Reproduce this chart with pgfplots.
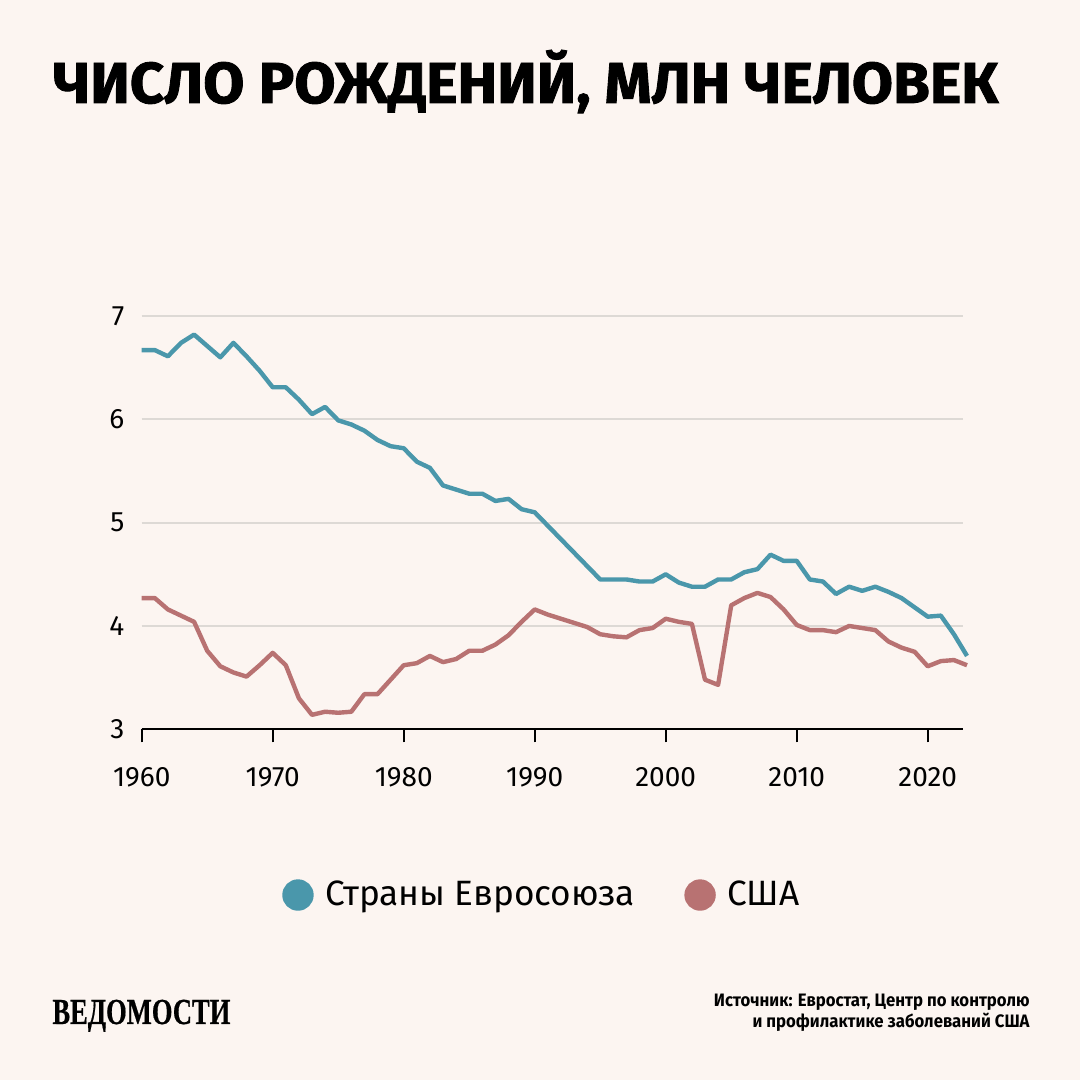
\documentclass[border=0pt]{standalone}
\usepackage{fontspec}
\setmainfont{Fira Sans}
\newfontfamily\titlefont[BoldFeatures={FakeBold=1.5}]{Fira Sans}
\newfontfamily\logofont[BoldFeatures={FakeBold=0.6}]{Liberation Serif}
\usepackage{graphicx}
\usepackage{pgfplots}
\pgfplotsset{compat=1.18}
\definecolor{bg}{HTML}{FCF5F1}
\definecolor{eucol}{HTML}{4A97AB}
\definecolor{uscol}{HTML}{B87272}
\definecolor{gridc}{HTML}{DDD9D5}
\begin{document}
\begin{tikzpicture}
\useasboundingbox (0,0) rectangle (540pt,540pt);
\fill[bg] (0,0) rectangle (540pt,540pt);
\node[anchor=base west, inner sep=0pt] at (26.5pt,488.5pt)
  {\resizebox{472.5pt}{20pt}{\titlefont\bfseries\smash{ЧИСЛО РОЖДЕНИЙ, МЛН ЧЕЛОВЕК}\vphantom{Н}}};
\node[anchor=base west, inner sep=0pt] at (26pt,28pt)
  {\resizebox{89pt}{12pt}{\logofont\bfseries\smash{ВЕДОМОСТИ}\vphantom{В}}};
\node[anchor=base east, inner sep=0pt, font=\bfseries\fontsize{9}{10}\selectfont] at (515pt,36.5pt) {\scalebox{0.93}[1]{Источник: Евростат, Центр по контролю}};
\node[anchor=base east, inner sep=0pt, font=\bfseries\fontsize{9}{10}\selectfont] at (515pt,26pt) {\scalebox{0.93}[1]{и профилактике заболеваний США}};
\begin{axis}[
  at={(70.85pt,175.35pt)}, anchor=south west, scale only axis,
  width=410.5pt, height=206.65pt,
  xmin=1960, xmax=2022.67, ymin=3, ymax=7,
  clip=false,
  axis x line*=bottom, axis y line*=left,
  y axis line style={draw=none},
  x axis line style={black, line width=1.1pt},
  xtick={1960,1970,1980,1990,2000,2010,2020},
  xticklabels={1960,1970,1980,1990,2000,2010,2020},
  ytick={3,4,5,6,7}, yticklabels={3,4,5,6,7},
  ytick style={draw=none},
  xtick style={black, line width=1.1pt},
  tick align=outside, major tick length=6.5pt,
  ymajorgrids, grid style={color=gridc, line width=0.9pt},
  tick label style={font=\fontsize{14}{14}\selectfont, text=black},
  xticklabel style={anchor=north, inner sep=0pt, yshift=-12.3pt},
  yticklabel style={anchor=east, inner sep=0pt, xshift=-2pt},
  legend style={at={(0.4888,-0.401)}, anchor=center, draw=none, fill=none,
    font=\fontsize{17.6}{19}\selectfont,
    /tikz/every even column/.append style={column sep=23pt}},
  legend columns=2,
  legend image code/.code={\fill[#1] (0pt,0pt) circle (6.75pt); \path (10.5pt,0pt);},
]
\addplot[color=eucol, line width=2.2pt, line join=round] coordinates {
(1960,6.67)(1961,6.67)(1962,6.61)(1963,6.74)(1964,6.82)(1965,6.71)(1966,6.60)(1967,6.74)(1968,6.61)(1969,6.47)
(1970,6.31)(1971,6.31)(1972,6.19)(1973,6.05)(1974,6.12)(1975,5.99)(1976,5.95)(1977,5.89)(1978,5.80)(1979,5.74)
(1980,5.72)(1981,5.59)(1982,5.53)(1983,5.36)(1984,5.32)(1985,5.28)(1986,5.28)(1987,5.21)(1988,5.23)(1989,5.13)
(1990,5.10)(1991,4.97)(1992,4.84)(1993,4.71)(1994,4.58)(1995,4.45)(1996,4.45)(1997,4.45)(1998,4.43)(1999,4.43)
(2000,4.50)(2001,4.42)(2002,4.38)(2003,4.38)(2004,4.45)(2005,4.45)(2006,4.52)(2007,4.55)(2008,4.69)(2009,4.63)
(2010,4.63)(2011,4.45)(2012,4.43)(2013,4.31)(2014,4.38)(2015,4.34)(2016,4.38)(2017,4.33)(2018,4.27)(2019,4.18)
(2020,4.09)(2021,4.10)(2022,3.92)(2023,3.71)
};
\addlegendentry{Страны Евросоюза}
\addplot[color=uscol, line width=2.2pt, line join=round] coordinates {
(1960,4.27)(1961,4.27)(1962,4.16)(1963,4.10)(1964,4.04)(1965,3.76)(1966,3.61)(1967,3.55)(1968,3.51)(1969,3.62)
(1970,3.74)(1971,3.62)(1972,3.30)(1973,3.14)(1974,3.17)(1975,3.16)(1976,3.17)(1977,3.34)(1978,3.34)(1979,3.48)
(1980,3.62)(1981,3.64)(1982,3.71)(1983,3.65)(1984,3.68)(1985,3.76)(1986,3.76)(1987,3.82)(1988,3.91)(1989,4.04)
(1990,4.16)(1991,4.11)(1992,4.07)(1993,4.03)(1994,3.99)(1995,3.92)(1996,3.90)(1997,3.89)(1998,3.96)(1999,3.98)
(2000,4.07)(2001,4.04)(2002,4.02)(2003,3.48)(2004,3.43)(2005,4.20)(2006,4.27)(2007,4.32)(2008,4.28)(2009,4.16)
(2010,4.01)(2011,3.96)(2012,3.96)(2013,3.94)(2014,4.00)(2015,3.98)(2016,3.96)(2017,3.85)(2018,3.79)(2019,3.75)
(2020,3.61)(2021,3.66)(2022,3.67)(2023,3.62)
};
\addlegendentry{США}
\end{axis}
\end{tikzpicture}
\end{document}
